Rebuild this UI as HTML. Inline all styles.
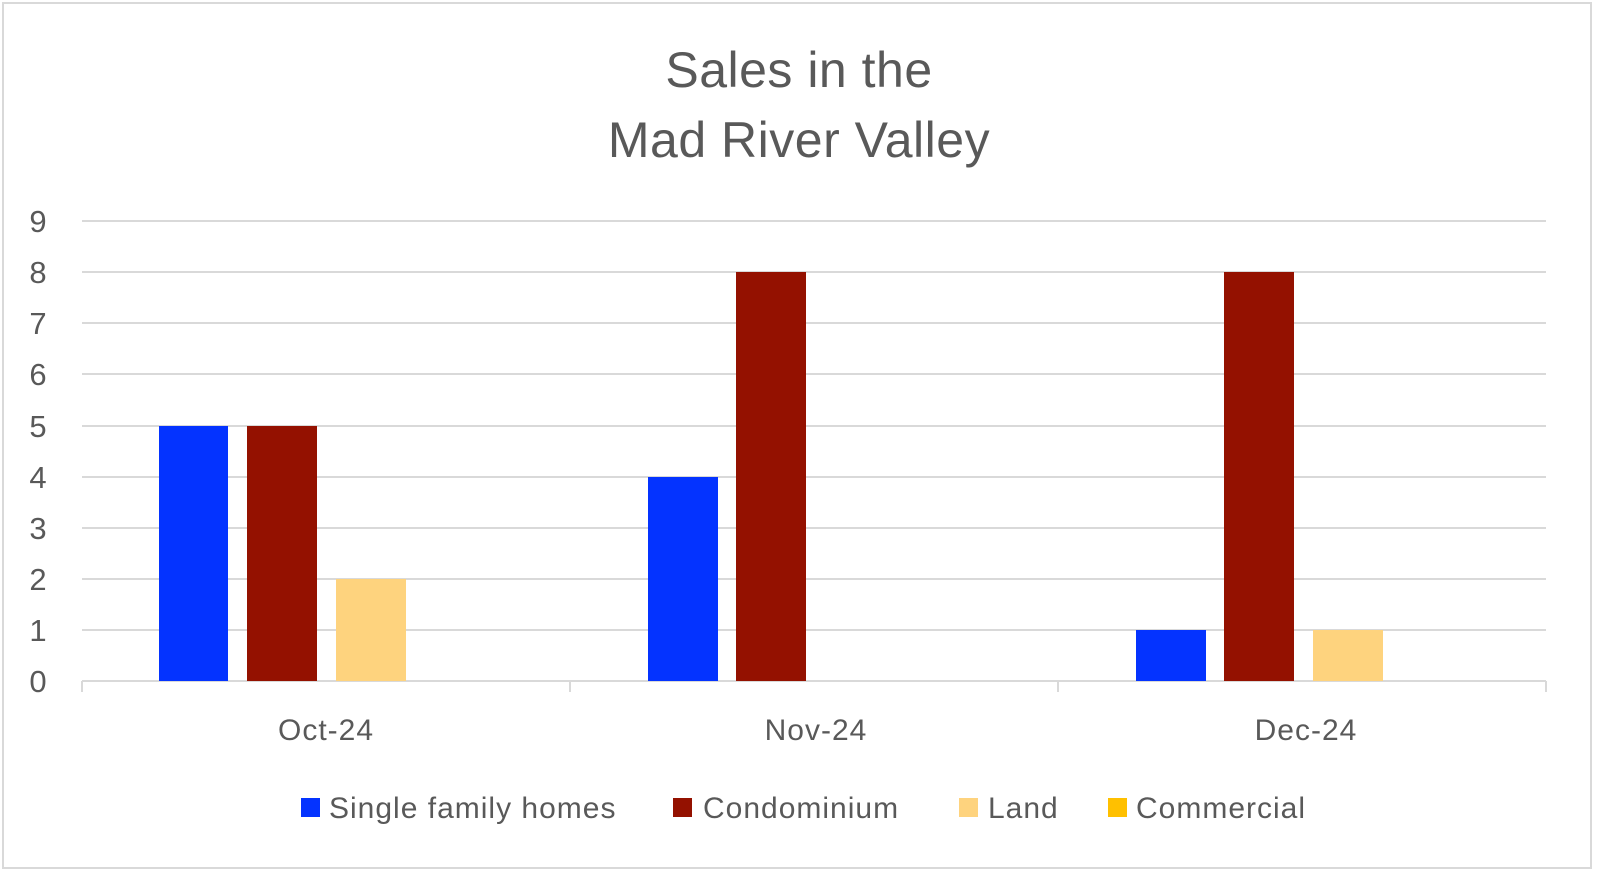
<!DOCTYPE html>
<html><head><style>
body{margin:0;background:#fff;}
svg{display:block;}
text{font-family:"Liberation Sans",sans-serif;fill:#595959;}
</style></head><body>
<svg width="1600" height="872" xmlns="http://www.w3.org/2000/svg">
<rect x="3" y="3" width="1588" height="865" fill="#fff" stroke="#d9d9d9" stroke-width="2"/>
<text x="799" y="87" font-size="50" text-anchor="middle" letter-spacing="0.5">Sales in the</text>
<text x="799" y="157" font-size="50" text-anchor="middle" letter-spacing="0.5">Mad River Valley</text>
<g stroke="#d9d9d9" stroke-width="2">
<line x1="82" y1="221" x2="1546" y2="221"/>
<line x1="82" y1="272" x2="1546" y2="272"/>
<line x1="82" y1="323" x2="1546" y2="323"/>
<line x1="82" y1="374" x2="1546" y2="374"/>
<line x1="82" y1="426" x2="1546" y2="426"/>
<line x1="82" y1="477" x2="1546" y2="477"/>
<line x1="82" y1="528" x2="1546" y2="528"/>
<line x1="82" y1="579" x2="1546" y2="579"/>
<line x1="82" y1="630" x2="1546" y2="630"/>
<line x1="82" y1="681" x2="1546" y2="681"/>
<line x1="82" y1="681" x2="82" y2="692"/>
<line x1="570" y1="681" x2="570" y2="692"/>
<line x1="1058" y1="681" x2="1058" y2="692"/>
<line x1="1546" y1="681" x2="1546" y2="692"/>
</g>
<g font-size="31" text-anchor="middle">
<text x="38" y="232">9</text><text x="38" y="283">8</text><text x="38" y="334">7</text>
<text x="38" y="385">6</text><text x="38" y="437">5</text><text x="38" y="488">4</text>
<text x="38" y="539">3</text><text x="38" y="590">2</text><text x="38" y="641">1</text>
<text x="38" y="692">0</text>
</g>
<g font-size="30" text-anchor="middle">
<text x="326" y="740" letter-spacing="1">Oct-24</text><text x="816" y="740" letter-spacing="1">Nov-24</text><text x="1306" y="740" letter-spacing="1">Dec-24</text>
</g>
<rect x="159" y="426" width="69" height="255" fill="#0433ff"/>
<rect x="247" y="426" width="70" height="255" fill="#941100"/>
<rect x="336" y="579" width="70" height="102" fill="#fed37e"/>
<rect x="648" y="477" width="70" height="204" fill="#0433ff"/>
<rect x="736" y="272" width="70" height="409" fill="#941100"/>
<rect x="1136" y="630" width="70" height="51" fill="#0433ff"/>
<rect x="1224" y="272" width="70" height="409" fill="#941100"/>
<rect x="1313" y="630" width="70" height="51" fill="#fed37e"/>
<g font-size="30" letter-spacing="1">
<rect x="301" y="798" width="19" height="19" fill="#0433ff"/><text x="329" y="818">Single family homes</text>
<rect x="673" y="798" width="19" height="19" fill="#941100"/><text x="703" y="818">Condominium</text>
<rect x="959" y="798" width="19" height="19" fill="#fed37e"/><text x="988" y="818">Land</text>
<rect x="1108" y="798" width="19" height="19" fill="#ffc000"/><text x="1136" y="818">Commercial</text>
</g>
</svg>
</body></html>
